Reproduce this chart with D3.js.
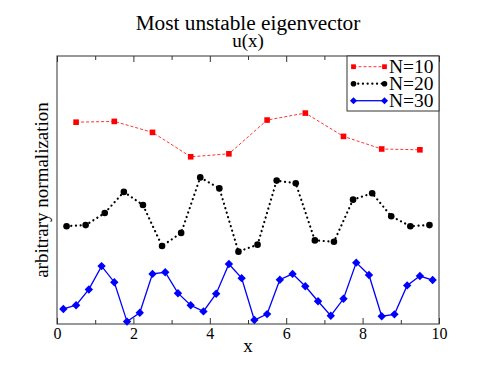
<!DOCTYPE html>
<html><head><meta charset="utf-8">
<script src="https://cdn.jsdelivr.net/npm/d3@7"></script>
<style>body{margin:0;background:#fff}svg{display:block;font-family:"Liberation Serif","Times New Roman","DejaVu Serif",serif}</style>
</head><body><svg id="c" width="494" height="382"></svg>
<script>
const xTicks = [0, 2, 4, 6, 8, 10];
const n10 = [7.53, 7.56, 7.15, 6.24, 6.35, 7.61, 7.87, 7.00, 6.53, 6.50];
const n20 = [3.65, 3.69, 4.14, 4.93, 4.44, 2.91, 3.40, 5.47, 5.06, 2.70,
             2.96, 5.35, 5.25, 3.12, 3.07, 4.64, 4.88, 4.02, 3.65, 3.69];
const n30 = [0.56, 0.70, 1.29, 2.16, 1.56, 0.09, 0.42, 1.87, 1.93, 1.15,
             0.70, 0.47, 1.13, 2.24, 1.71, 0.15, 0.37, 1.65, 1.87, 1.41,
             0.85, 0.31, 0.94, 2.29, 1.83, 0.29, 0.36, 1.44, 1.79, 1.64];
const seriesNames = ["N=10", "N=20", "N=30"];

const L = 57, R = 439, T = 56, B = 324;
const FONT = '"Liberation Serif","Times New Roman","DejaVu Serif",serif';
const svg = d3.select("#c");
const x = d3.scaleLinear().domain([0, 10]).range([L, R]);
const y = d3.scaleLinear().domain([0, 10]).range([B, T]);

function pts(arr) { const n = arr.length; return arr.map((v, i) => [(i + 0.5) * 10 / n, v]); }
const series = [
  {name: seriesNames[0], data: pts(n10), color: "#ff0000", dash: "3,2", width: 0.8, marker: "square"},
  {name: seriesNames[1], data: pts(n20), color: "#000000", dash: "0.1,4.6", width: 2.2, marker: "circle"},
  {name: seriesNames[2], data: pts(n30), color: "#0000ff", dash: null, width: 1.3, marker: "diamond"}
];

// frame
svg.append("rect").attr("x", L).attr("y", T).attr("width", R - L).attr("height", B - T)
  .attr("fill", "none").attr("stroke", "#333").attr("stroke-width", 1);

// x axes (bottom & top) with inward ticks
const axB = svg.append("g").attr("transform", `translate(0,${B})`)
  .call(d3.axisBottom(x).tickValues(d3.range(0, 11, 1)).tickSize(-6).tickPadding(10)
        .tickFormat(d => xTicks.includes(d) ? d : ""));
axB.select(".domain").remove();
axB.selectAll(".tick line").attr("y2", d => d % 2 === 0 ? -6 : -4).attr("stroke", "#333");
axB.selectAll(".tick text").attr("font-size", 16).attr("font-family", FONT).attr("fill", "#000")
  .attr("dy", null).attr("y", 15);
const axT = svg.append("g").attr("transform", `translate(0,${T})`)
  .call(d3.axisTop(x).tickValues(d3.range(0, 11, 1)).tickSize(-6).tickFormat(""));
axT.select(".domain").remove();
axT.selectAll(".tick line").attr("y2", d => d % 2 === 0 ? 6 : 4).attr("stroke", "#333");

// lines
const line = d3.line().x(d => x(d[0])).y(d => y(d[1]));
series.forEach(s => {
  svg.append("path").datum(s.data).attr("d", line).attr("fill", "none")
    .attr("stroke", s.color).attr("stroke-width", s.width)
    .attr("stroke-dasharray", s.dash).attr("stroke-linecap", s.marker === "circle" ? "round" : "butt");
});

function marker(g, s, cx, cy, k) {
  k = k || 1;
  if (s.marker === "square") g.append("rect").attr("x", cx - 2.8 * k).attr("y", cy - 2.8 * k).attr("width", 5.6 * k).attr("height", 5.6 * k).attr("fill", s.color);
  else if (s.marker === "circle") g.append("circle").attr("cx", cx).attr("cy", cy).attr("r", 3.3 * k).attr("fill", s.color);
  else { const h = 4.2 * k; g.append("path").attr("d", `M${cx},${cy - h}L${cx + h},${cy}L${cx},${cy + h}L${cx - h},${cy}Z`).attr("fill", s.color); }
}
series.forEach(s => {
  const g = svg.append("g");
  s.data.forEach(d => marker(g, s, x(d[0]), y(d[1])));
});

// legend
const lg = svg.append("g");
lg.append("rect").attr("x", 347).attr("y", T).attr("width", R - 347).attr("height", 55)
  .attr("fill", "#fff").attr("stroke", "#333").attr("stroke-width", 1);
series.forEach((s, i) => {
  const yy = 66.7 + i * 17;
  lg.append("line").attr("x1", 353.5).attr("x2", 384.5).attr("y1", yy).attr("y2", yy)
    .attr("stroke", s.color).attr("stroke-width", s.width).attr("stroke-dasharray", s.dash)
    .attr("stroke-linecap", s.marker === "circle" ? "round" : "butt");
  marker(lg, s, 353.5, yy, 0.85); marker(lg, s, 384.5, yy, 0.85);
  lg.append("text").attr("x", 389).attr("y", yy + 5.8).attr("font-size", 19.5).text(s.name);
});

// titles
svg.append("text").attr("x", 248).attr("y", 30).attr("text-anchor", "middle").attr("font-size", 21.3).text("Most unstable eigenvector");
svg.append("text").attr("x", 248).attr("y", 46.5).attr("text-anchor", "middle").attr("font-size", 19).text("u(x)");
svg.append("text").attr("x", 248).attr("y", 352).attr("text-anchor", "middle").attr("font-size", 19).text("x");
svg.append("text").attr("transform", "translate(48,190) rotate(-90)").attr("text-anchor", "middle").attr("font-size", 19).text("arbitrary normalization");
</script></body></html>
